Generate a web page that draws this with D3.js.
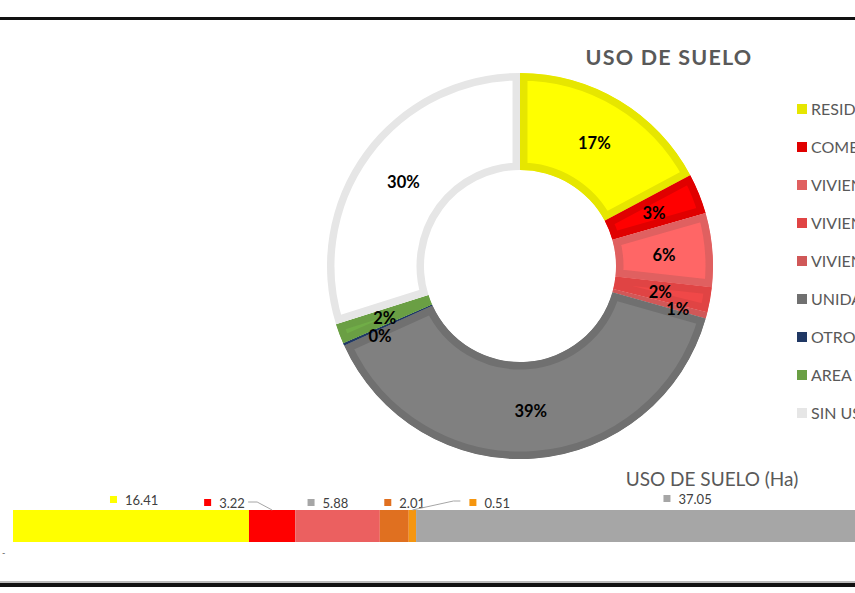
<!DOCTYPE html>
<meta charset="utf-8">
<style>
body{ margin:0; background:#fff; overflow:hidden; }
text{ font-family:Lato, "Open Sans", sans-serif; fill:#595959; }
.title{ font-size:21.5px; font-weight:bold; letter-spacing:1.2px; text-anchor:middle; }
.perc{ font-size:16.5px; font-weight:bold; fill:#000; text-anchor:middle; }
.leg{ font-size:16px; }
.barTitle{ font-size:19px; text-anchor:middle; }
.barLab{ font-size:13px; fill:#404040; }
.leader{ fill:none; stroke:#A6A6A6; stroke-width:1; }
</style>
<body>
<script src="https://d3js.org/d3.v7.min.js"></script>
<script>

// categories and hectares
var categories = ["RESIDENCIAL", "COMERCIAL", "VIVIENDA UNIFAMILIAR", "VIVIENDA BIFAMILIAR",
	"VIVIENDA MULTIFAMILIAR", "UNIDAD DEPORTIVA", "OTROS", "AREA VERDE", "SIN USO"];
var hectares = [16.41, 3.22, 5.88, 2.01, 0.51, 37.05, 0.2, 1.6, 28.5];

var fills   = ["#FFFF00", "#FF0000", "#FF6666", "#F04848", "#FF5252", "#808080", "#203864", "#70AD47", "#FFFFFF"];
var borders = ["#E6E600", "#E00000", "#E06060", "#E04444", "#D05858", "#707070", "#203864", "#6A9F44", "#E6E6E6"];

// bottom bar (only first six segments shown)
var barValues = [16.41, 3.22, 5.88, 2.01, 0.51, 37.05];
var barColors = ["#FFFF00", "#FF0000", "#EB6060", "#E07020", "#F5960F", "#A6A6A6"];
var barKeyColors = ["#FFFF00", "#FF0000", "#A6A6A6", "#E07020", "#F5960F", "#A6A6A6"];

var W = 855, H = 593;
var svg = d3.select("body").append("svg").attr("width", W).attr("height", H);

// frame lines
svg.append("rect").attr("x", 0).attr("y", 17).attr("width", W).attr("height", 3).attr("fill", "#111");
svg.append("rect").attr("x", 0).attr("y", 583).attr("width", W).attr("height", 4).attr("fill", "#111");
svg.append("rect").attr("x", 0).attr("y", 581).attr("width", W).attr("height", 2).attr("fill", "#bbb");

// ---- donut
var cx = 520, cy = 266, rOut = 193, rIn = 96;
var total = d3.sum(hectares);
var pie = d3.pie().sort(null).value(d => d);
var arcs = pie(hectares);
var arc = d3.arc().innerRadius(rIn).outerRadius(rOut);

svg.append("text").attr("class", "title").attr("x", 669).attr("y", 65).text("USO DE SUELO");

var g = svg.append("g").attr("transform", "translate(" + cx + "," + cy + ")");
var defs = svg.append("defs");

arcs.forEach(function(a, i){
	defs.append("clipPath").attr("id", "cp" + i).append("path").attr("d", arc(a));
	g.append("path").attr("d", arc(a))
		.attr("fill", fills[i])
		.attr("stroke", borders[i])
		.attr("stroke-width", 15)
		.attr("stroke-linejoin", "miter")
		.attr("clip-path", "url(#cp" + i + ")");
});

// labels, small slices pushed a bit outward
var nudge = {3: [-2, 0], 4: [18, 5], 6: [-8, 10]};
arcs.forEach(function(a, i){
	var c = arc.centroid(a);
	var n = nudge[i] || [0, 0];
	g.append("text").attr("class", "perc")
		.attr("x", c[0] + n[0]).attr("y", c[1] + n[1] + 7)
		.text(d3.format(".0%")(hectares[i] / total));
});

// legend
var ly = d3.scalePoint().domain(d3.range(categories.length)).range([110, 414]);
categories.forEach(function(c, i){
	svg.append("rect").attr("x", 797).attr("y", ly(i) - 6).attr("width", 10).attr("height", 10).attr("fill", borders[i]);
	svg.append("text").attr("class", "leg").attr("x", 811).attr("y", ly(i) + 5).text(c);
});

// ---- bottom stacked bar
svg.append("text").attr("class", "barTitle").attr("x", 712).attr("y", 486).text("USO DE SUELO (Ha)");

var x = d3.scaleLinear().domain([0, total]).range([13, 13 + total * 14.38]);
var cum = d3.cumsum(barValues);
var starts = barValues.map((v, i) => cum[i] - v);
var by = 510, bh = 32;

barValues.forEach(function(v, i){
	svg.append("rect").attr("x", x(starts[i])).attr("y", by)
		.attr("width", x(cum[i]) - x(starts[i])).attr("height", bh)
		.attr("fill", barColors[i]);
});

// data labels: [dx from segment centre, baseline y]
var labPos = [[-21, 505], [-68, 508], [-30, 508], [-10, 508], [57, 508], [-19, 504]];
barValues.forEach(function(v, i){
	var mid = x(starts[i] + v / 2);
	var lx = mid + labPos[i][0], lyy = labPos[i][1];
	svg.append("rect").attr("x", lx).attr("y", lyy - 9).attr("width", 7).attr("height", 7).attr("fill", barKeyColors[i]);
	svg.append("text").attr("class", "barLab").attr("x", lx + 15).attr("y", lyy).text(d3.format(".2f")(v));
});

// leader lines for the crowded labels
var l1 = x(starts[1] + barValues[1] / 2);
svg.append("path").attr("class", "leader")
	.attr("d", d3.line()([[l1 - 24, 502], [l1 - 15, 502], [l1, by]]));
var l2 = x(starts[4] + barValues[4] / 2);
svg.append("path").attr("class", "leader")
	.attr("d", d3.line()([[l2, by], [l2 + 41, 501], [l2 + 48, 501]]));

svg.append("text").attr("x", 2).attr("y", 556).attr("font-size", 9).text("-");
</script>
</body>
